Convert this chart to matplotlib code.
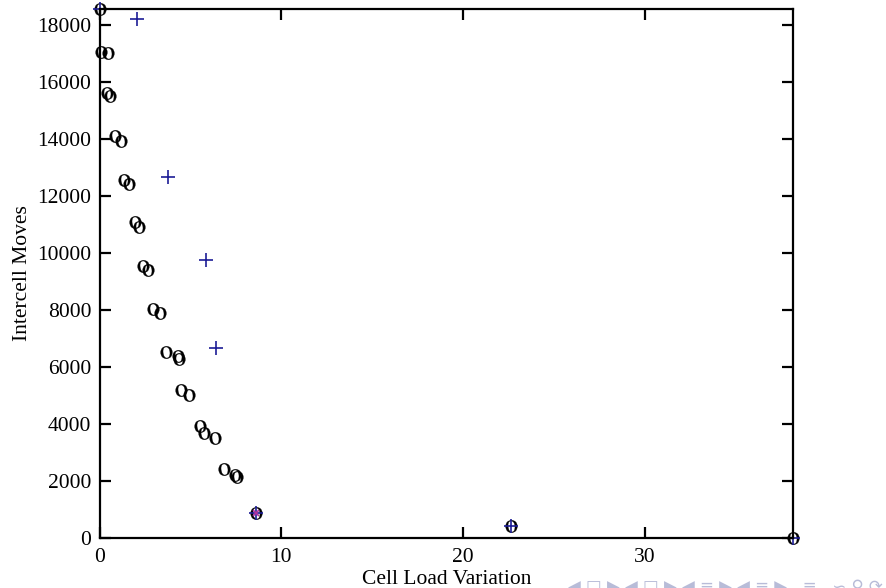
import numpy as np
import matplotlib
matplotlib.use("Agg")
from matplotlib import pyplot as plt

plt.rcParams['font.family'] = ['Liberation Serif', 'DejaVu Serif']
plt.rcParams['mathtext.fontset'] = 'stix'

# "o" series: cell load variation vs intercell moves
o_load = [0.0, 0.08, 0.47, 0.41, 0.58, 0.85, 1.18, 1.35, 1.62, 1.95, 2.17,
          2.39, 2.67, 2.94, 3.33, 3.66, 4.32, 4.38, 4.49, 4.93, 5.53, 5.75,
          6.36, 6.85, 7.46, 7.57, 8.6, 22.65, 38.17]
o_moves = [18560, 17050, 17000, 15610, 15500, 14100, 13930, 12560, 12420,
           11090, 10910, 9540, 9400, 8040, 7900, 6530, 6390, 6280, 5190,
           5020, 3930, 3680, 3510, 2420, 2210, 2140, 880, 430, 0]

# "+" series
p_load = [0.0, 2.08, 3.79, 5.84, 6.41, 8.6, 22.65, 38.17]
p_moves = [18560, 18210, 12680, 9750, 6650, 880, 430, 0]

# highlighted point
h_load = [8.6]
h_moves = [880]

x_ticks = [0, 10, 20, 30]
y_ticks = [0, 2000, 4000, 6000, 8000, 10000, 12000, 14000, 16000, 18000]

fig = plt.figure(figsize=(8.87, 5.88), dpi=100)
ax = fig.add_axes([0.1122, 0.085, 0.894 - 0.1122, 0.9847 - 0.085])

ax.plot(o_load, o_moves, linestyle='none', marker=r'$\mathrm{o}$',
        markersize=9, markeredgewidth=0.2, color='black', clip_on=False)
ax.plot(p_load, p_moves, linestyle='none', marker='+', markersize=10,
        markeredgewidth=1.2, color='#1c1c96', clip_on=False)
ax.plot(h_load, h_moves, linestyle='none', marker='x', markersize=5,
        markeredgewidth=1.2, color='#b030a0', clip_on=False)

ax.set_xlim(0, 38.17)
ax.set_ylim(0, 18560)
ax.set_xticks(x_ticks)
ax.set_yticks(y_ticks)
for s in ax.spines.values():
    s.set_linewidth(1.6)
ax.tick_params(direction='in', length=8, width=1.6, top=True, right=True,
               labelsize=15.5)
ax.tick_params(axis='x', pad=7)
ax.tick_params(axis='y', pad=6)
ax.set_xlabel('Cell Load Variation', fontsize=15.5, labelpad=2)
ax.set_ylabel('Intercell Moves', fontsize=15.5, labelpad=4)

# clipped slide title and navigation symbols
fig.text(0.08, 1.0 + 3.5 / 588, 'Intercell moves vs. cell load (varying the weight, two objectives)',
         color='#3333b3', fontsize=16, va='baseline', family='DejaVu Sans')
fig.text(0.995, -0.014, '◀ □ ▶ ◀ □ ▶ ◀ ≡ ▶ ◀ ≡ ▶   ≡   ∽ ⚲ ⟳',
         color='#b8bcd8', fontsize=12, ha='right', va='bottom', family='DejaVu Sans')

fig.savefig('out.png', dpi=100)
